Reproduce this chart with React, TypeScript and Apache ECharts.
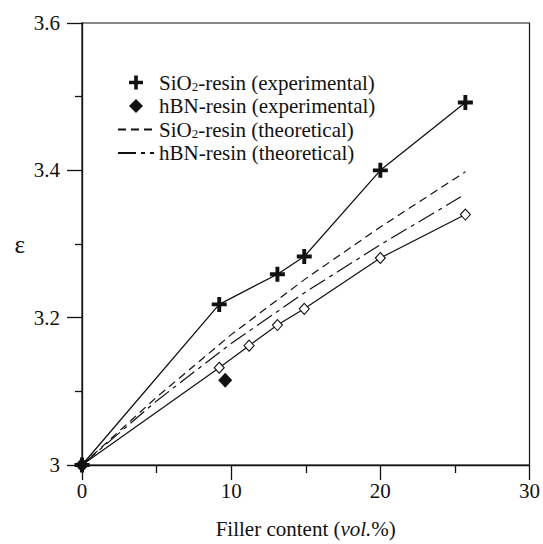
import React, { useEffect, useRef } from "react";
import * as echarts from "echarts";

// ---- data ----
const sio2ExpX = [0, 9.2, 13.1, 14.9, 20, 25.7];
const sio2ExpY = [3.0, 3.218, 3.259, 3.283, 3.4, 3.492];

const hbnExpX = [0, 9.6];
const hbnExpY = [3.0, 3.115];

const hbnOpenX = [0, 9.2, 11.2, 13.1, 14.9, 20, 25.7];
const hbnOpenY = [3.0, 3.132, 3.162, 3.19, 3.212, 3.281, 3.34];

const sio2TheoX = [0, 5, 10, 15, 20, 25.7];
const sio2TheoY = [3.0, 3.092, 3.177, 3.253, 3.323, 3.398];

const hbnTheoX = [0, 5, 10, 15, 20, 25.4];
const hbnTheoY = [3.0, 3.087, 3.165, 3.235, 3.299, 3.364];

const xMin = 0;
const xMax = 30;
const xInterval = 10;
const yMin = 3.0;
const yMax = 3.6;
const yInterval = 0.2;

const N1 = "SiO2-resin (experimental)";
const N2 = "hBN-resin (experimental)";
const N3 = "SiO2-resin (theoretical)";
const N4 = "hBN-resin (theoretical)";
const N5 = "hBN-resin";
const X_NAME = "Filler content (vol.%)";

const FONT = "'Liberation Serif', 'Times New Roman', serif";
const BLACK = "#111";
const PLUS = "path://M37,0H63V37H100V63H63V100H37V63H0V37H37Z";
const DIAMOND = "path://M50,0L100,50L50,100L0,50Z";

const zip = (xs: number[], ys: number[]) => xs.map((x, i) => [x, ys[i]]);

export default function App() {
  const ref = useRef<HTMLDivElement>(null);
  useEffect(() => {
    if (!ref.current) return;
    const chart = echarts.init(ref.current, undefined, { renderer: "svg" });
    const axisLine = { show: true, lineStyle: { color: BLACK, width: 1.3 } };
    const xNameRich = X_NAME.replace("(vol.%)", "(}{i|vol.}{n|%)");
    chart.setOption({
      animation: false,
      backgroundColor: "#fff",
      grid: {
        left: 82,
        right: 12,
        top: 23,
        bottom: 72,
        show: true,
        borderColor: BLACK,
        borderWidth: 1.2,
        backgroundColor: "transparent",
      },
      legend: {
        left: 112,
        top: 67,
        orient: "vertical",
        itemWidth: 36,
        itemHeight: 14,
        itemGap: 2.5,
        symbolKeepAspect: true,
        textStyle: {
          fontFamily: FONT,
          fontSize: 21,
          lineHeight: 20,
          color: BLACK,
          rich: {
            n: { fontFamily: FONT, fontSize: 21, lineHeight: 20, color: BLACK },
            s: { fontFamily: FONT, fontSize: 13, lineHeight: 8, verticalAlign: "bottom", color: BLACK },
          },
        },
        formatter: (name: string) => {
          const parts = name.split("SiO2");
          if (parts.length > 1) return "{n|SiO}{s|2}{n|" + parts[1] + "}";
          return "{n|" + name + "}";
        },
        data: [
          { name: N1, icon: PLUS },
          { name: N2, icon: DIAMOND },
          { name: N3, icon: "inherit", itemStyle: { opacity: 0 } },
          { name: N4, icon: "inherit", itemStyle: { opacity: 0 } },
        ],
      },
      xAxis: {
        type: "value",
        min: xMin,
        max: xMax,
        interval: xInterval,
        splitLine: { show: false },
        axisLine,
        axisTick: { show: true, length: 15, lineStyle: { color: BLACK, width: 1.3 } },
        minorTick: { show: true, splitNumber: 2, length: 8, lineStyle: { color: BLACK, width: 1.3 } },
        axisLabel: { fontFamily: FONT, fontSize: 21, color: BLACK, margin: 15 },
        name: "{n|" + xNameRich + "}",
        nameLocation: "middle",
        nameGap: 53,
        nameTextStyle: {
          fontFamily: FONT,
          fontSize: 21,
          color: BLACK,
          rich: {
            n: { fontFamily: FONT, fontSize: 21, color: BLACK },
            i: { fontFamily: FONT, fontSize: 21, fontStyle: "italic", color: BLACK },
          },
        },
      },
      yAxis: {
        type: "value",
        min: yMin,
        max: yMax,
        interval: yInterval,
        splitLine: { show: false },
        axisLine,
        axisTick: { show: true, length: 15, lineStyle: { color: BLACK, width: 1.3 } },
        minorTick: { show: true, splitNumber: 2, length: 7, lineStyle: { color: BLACK, width: 1.3 } },
        axisLabel: { fontFamily: FONT, fontSize: 21, color: BLACK, margin: 22 },
        name: "ε",
        nameLocation: "middle",
        nameRotate: 0,
        nameGap: 57,
        nameTextStyle: { fontFamily: FONT, fontSize: 25, color: BLACK },
      },
      series: [
        {
          name: N3,
          type: "line",
          data: zip(sio2TheoX, sio2TheoY),
          symbol: "none",
          smooth: false,
          lineStyle: { color: BLACK, width: 1.2, type: [8, 5] },
          itemStyle: { color: BLACK },
          z: 2,
        },
        {
          name: N4,
          type: "line",
          data: zip(hbnTheoX, hbnTheoY),
          symbol: "none",
          smooth: false,
          lineStyle: { color: BLACK, width: 1.2, type: [18, 5, 4, 5] },
          itemStyle: { color: BLACK },
          z: 2,
        },
        {
          name: N5,
          type: "line",
          data: zip(hbnOpenX, hbnOpenY),
          symbol: "diamond",
          symbolSize: [10, 11],
          showAllSymbol: true,
          lineStyle: { color: BLACK, width: 1.2 },
          itemStyle: { color: "#fff", borderColor: BLACK, borderWidth: 1.1 },
          z: 3,
        },
        {
          name: N1,
          type: "line",
          data: zip(sio2ExpX, sio2ExpY),
          symbol: PLUS,
          symbolSize: 15,
          showAllSymbol: true,
          lineStyle: { color: BLACK, width: 1.3 },
          itemStyle: { color: BLACK },
          z: 4,
        },
        {
          name: N2,
          type: "scatter",
          data: zip(hbnExpX, hbnExpY),
          symbol: "diamond",
          symbolSize: [14, 15],
          itemStyle: { color: BLACK, opacity: 1 },
          z: 5,
        },
      ],
    });
    return () => chart.dispose();
  }, []);
  return <div ref={ref} style={{ width: 543, height: 544, position: "absolute", left: 0, top: 0 }} />;
}
